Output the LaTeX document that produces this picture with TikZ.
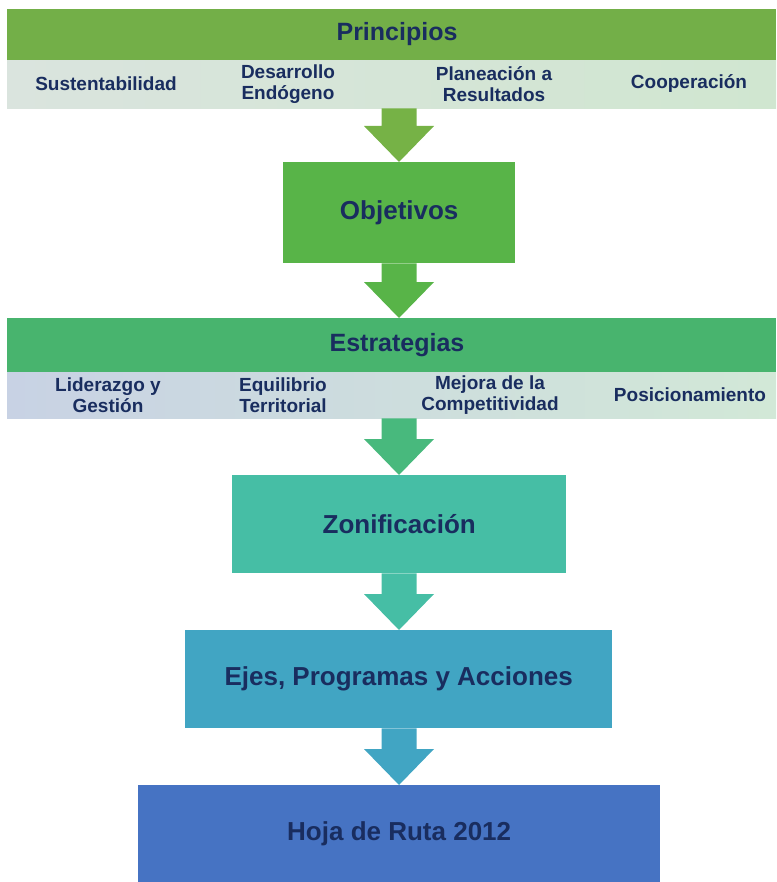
\documentclass[tikz,border=0pt]{standalone}
\usepackage{fontspec}
\setmainfont{Liberation Sans}
\usetikzlibrary{positioning,calc}

\definecolor{verdeP}{RGB}{115,175,72}
\definecolor{verdeO}{RGB}{88,180,72}
\definecolor{verdeE}{RGB}{72,180,110}
\definecolor{turquesa}{RGB}{70,190,165}
\definecolor{azulC}{RGB}{65,165,195}
\definecolor{azulH}{RGB}{70,115,195}
\definecolor{texto}{RGB}{25,45,95}
\definecolor{flechaP}{RGB}{118,178,70}
\definecolor{flechaE}{RGB}{72,185,125}
\definecolor{claroPi}{RGB}{218,228,222}
\definecolor{claroPd}{RGB}{208,230,208}
\definecolor{claroEi}{RGB}{200,210,228}
\definecolor{claroEd}{RGB}{210,232,215}

\tikzset{
  barra/.style={anchor=north west, inner sep=0pt, minimum width=769pt},
  titulo/.style={text=texto, inner sep=0pt, font=\bfseries\fontsize{25}{28}\selectfont},
  banda/.style={anchor=north west, inner sep=0pt, minimum width=769pt},
  item/.style={align=center, inner sep=0pt, text=texto,
    font=\bfseries\fontsize{19}{21}\selectfont},
  caja/.style={anchor=north west, inner sep=0pt, text=texto,
    font=\bfseries\fontsize{26}{30}\selectfont},
}

% flecha de bloque entre dos nodos, sobre el eje central
\newcommand{\flecha}[3]{%
  \fill[#3] ($(eje |- #1.south)+(-17.5,0)$) -- ($(eje |- #2.north)+(-17.5,-36)$)
    -- ($(eje |- #2.north)+(-35,-36)$) -- (eje |- #2.north) -- ($(eje |- #2.north)+(35,-36)$)
    -- ($(eje |- #2.north)+(17.5,-36)$) -- ($(eje |- #1.south)+(17.5,0)$) -- cycle;}

\begin{document}
\begin{tikzpicture}[x=1pt, y=-1pt]
\useasboundingbox (0,0) rectangle (776,882);
\coordinate (eje) at (399,0);

% Principios
\node[barra, fill=verdeP, minimum height=51pt] (principios) at (7,9) {};
\node[titulo] (tprin) at (397,34) {Principios};
\node[banda, minimum height=48pt, left color=claroPi, right color=claroPd] (bandaP) at (7,60) {};
\node[item] (sust) at (106,84) {Sustentabilidad};
\node[item] (desa) at (288,84) {Desarrollo\\Endógeno};
\node[item] (plan) at (494,84) {Planeación a\\Resultados};
\node[item] (coop) at (689,84) {Cooperación};

% Objetivos
\node[caja, fill=verdeO, minimum width=232pt, minimum height=101pt] (objetivos) at (283,162) {Objetivos};

% Estrategias
\node[barra, fill=verdeE, minimum height=54pt] (estrategias) at (7,318) {};
\node[titulo] (testr) at (397,345) {Estrategias};
\node[banda, minimum height=46pt, left color=claroEi, right color=claroEd] (bandaE) at (7,372) {};
\node[item] (lide) at (108,395) {Liderazgo y\\Gestión};
\node[item] (equi) at (283,395) {Equilibrio\\Territorial};
\node[item] (mejo) at (490,395) {Mejora de la\\Competitividad};
\node[item] (posi) at (690,395) {Posicionamiento};

% Zonificacion, ejes y hoja de ruta
\node[caja, fill=turquesa, minimum width=334pt, minimum height=98pt] (zonificacion) at (232,475) {Zonificación};
\node[caja, fill=azulC, minimum width=427pt, minimum height=98pt] (ejes) at (185,630) {Ejes, Programas y Acciones};
\node[caja, fill=azulH, minimum width=522pt, minimum height=97pt] (hoja) at (138,785) {Hoja de Ruta 2012};

% flechas
\flecha{bandaP}{objetivos}{flechaP}
\flecha{objetivos}{estrategias}{verdeO}
\flecha{bandaE}{zonificacion}{flechaE}
\flecha{zonificacion}{ejes}{turquesa}
\flecha{ejes}{hoja}{azulC}
\end{tikzpicture}
\end{document}
